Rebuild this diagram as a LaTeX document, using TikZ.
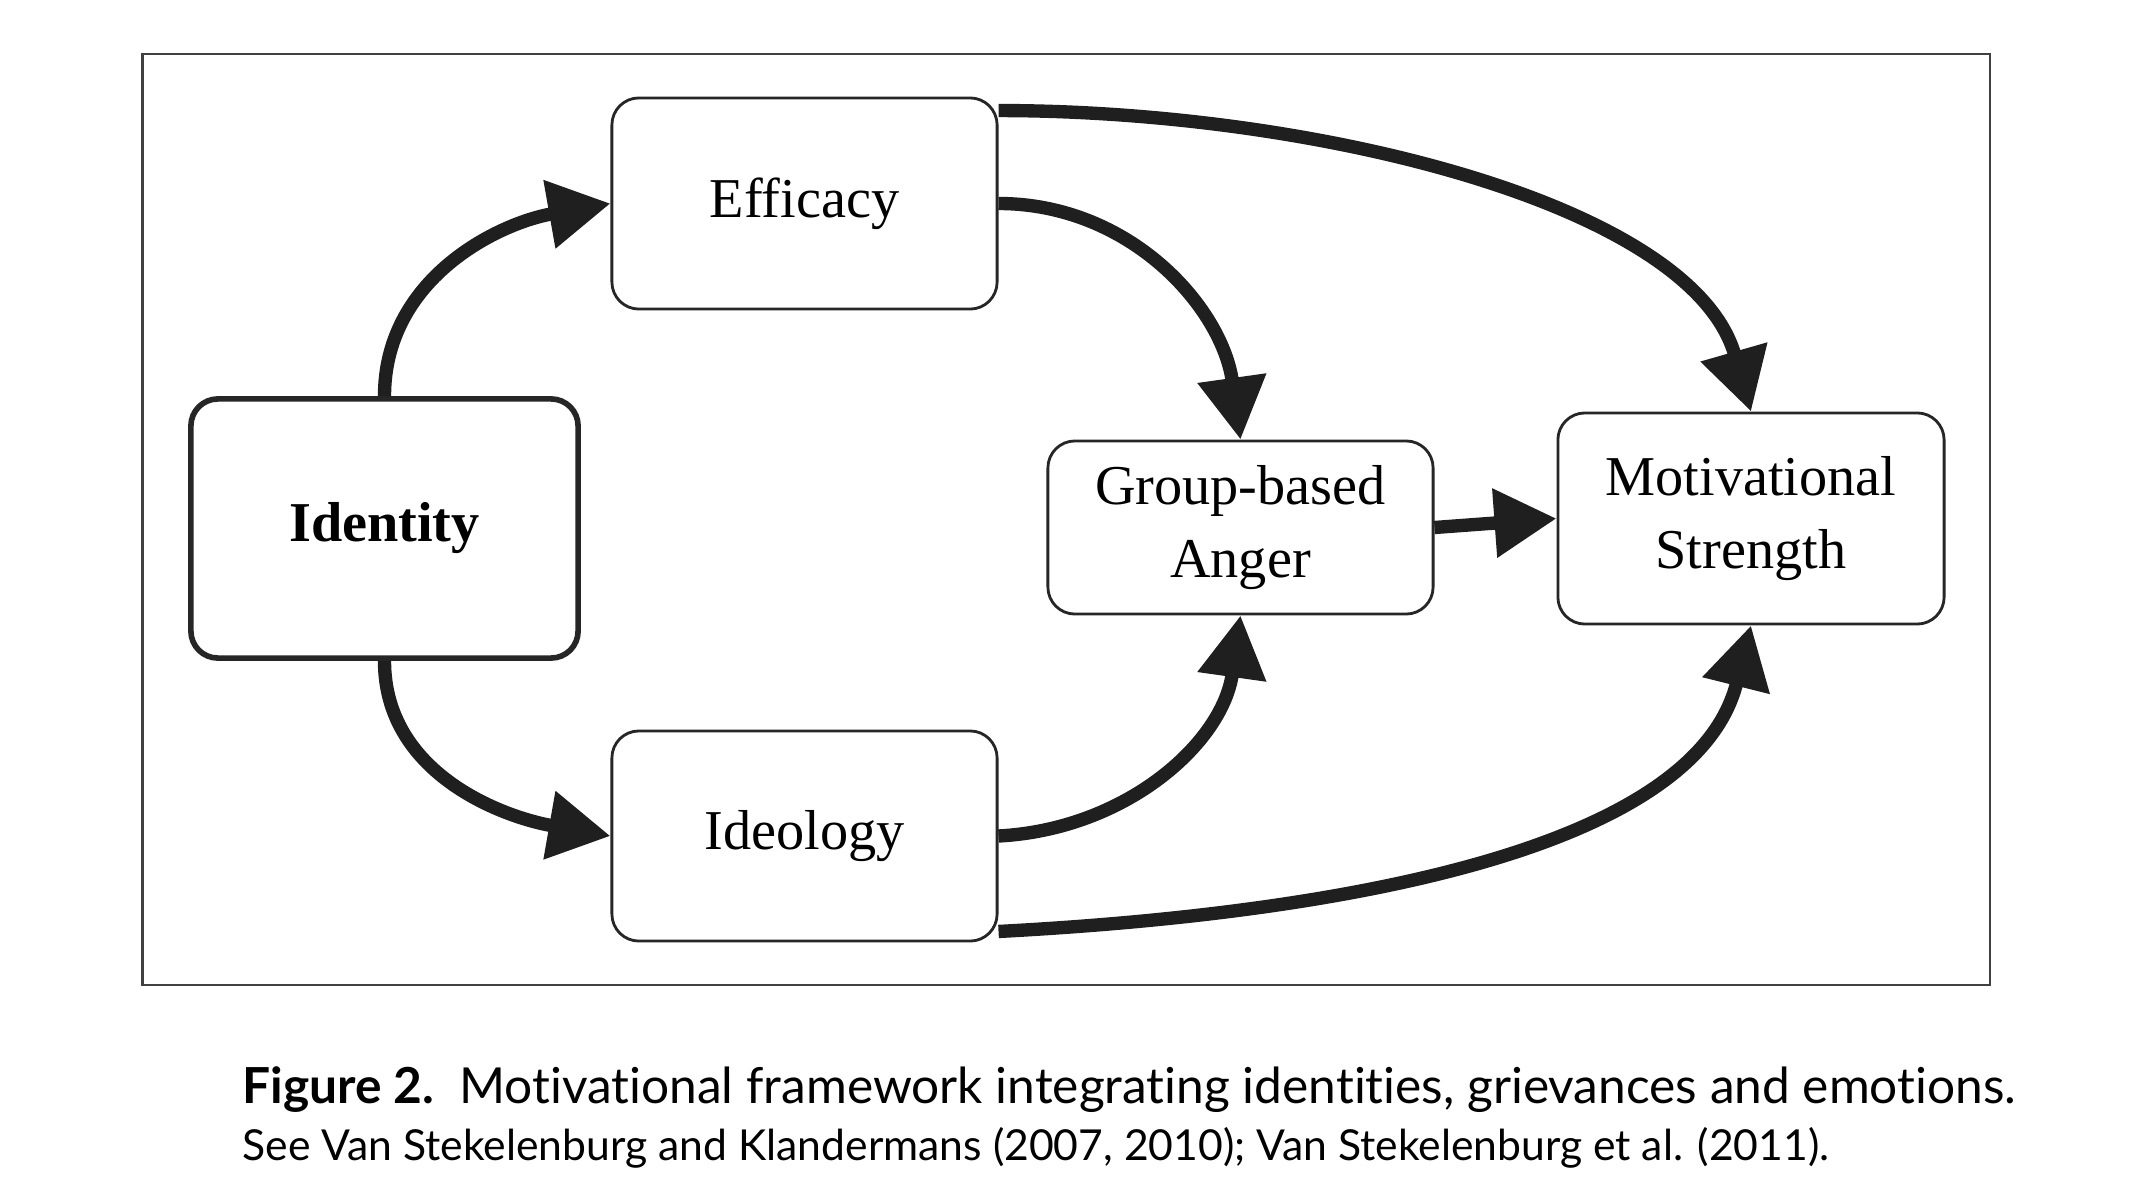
\documentclass[tikz,border=0pt]{standalone}
\usepackage{fontspec}
\setmainfont{Liberation Serif}
\newfontfamily\capfont[Ligatures=NoCommon]{Lato}
\usetikzlibrary{arrows.meta}
\begin{document}
\begin{tikzpicture}[x=0.01cm,y=-0.01cm,
  box/.style={draw=black!85, line width=0.8pt, rounded corners=0.27cm, minimum width=3.85cm, inner sep=0pt, align=center, font=\fontsize{16}{20.5}\selectfont, fill=white},
  conn/.style={line width=3.8pt, -{Triangle[length=0.62cm,width=0.66cm]}, black!88},
]
\useasboundingbox (0,0) rectangle (2136,1200);
\fill[white] (0,0) rectangle (2136,1200);
\node[draw=black!75, line width=0.6pt, minimum width=18.46cm, minimum height=9.31cm, inner sep=0pt] (frame) at (1066,519.5) {};
\node[box, minimum height=2.11cm] (eff) at (804.5,203.5) {Efficacy};
\node[box, minimum width=3.87cm, minimum height=2.59cm, line width=1.6pt, font=\fontsize{16}{20.5}\selectfont\bfseries] (iden) at (384.5,528.5) {Identity};
\node[box, minimum height=2.10cm] (ideo) at (804.5,836) {Ideology};
\node[box, minimum height=1.73cm] (ang) at (1240.5,527.5) {Group-based\\Anger};
\node[box, minimum width=3.86cm, minimum height=2.11cm] (mot) at (1751,518.5) {Motivational\\Strength};
\draw[conn] (iden.north) to[out=90,in=190] (eff.west);
\draw[conn] (iden.south) to[out=-90,in=170] (ideo.west);
\draw[conn] (eff.east) to[out=0,in=98] (ang.north);
\draw[conn] ([yshift=-0.14cm]eff.north east) to[out=0,in=106,out looseness=1.0,in looseness=0.68] (mot.north);
\draw[conn] (ideo.east) to[out=3,in=-98] (ang.south);
\draw[conn] ([yshift=0.11cm]ideo.south east) to[out=3,in=-104,out looseness=1.0,in looseness=0.75] (mot.south);
\draw[conn] (ang.east) -- (mot.west);
\node[anchor=base west, inner sep=0pt, font=\capfont\fontsize{14.12}{17}\selectfont] (cap1) at (242,1103) {\textbf{Figure 2.}\hspace{0.5em}Motivational framework integrating identities, grievances and emotions.};
\node[anchor=base west, inner sep=0pt, font=\capfont\fontsize{12.13}{15}\selectfont] (cap2) at (242,1160) {See Van Stekelenburg and Klandermans (2007, 2010); Van Stekelenburg et al. (2011).};
\end{tikzpicture}
\end{document}
